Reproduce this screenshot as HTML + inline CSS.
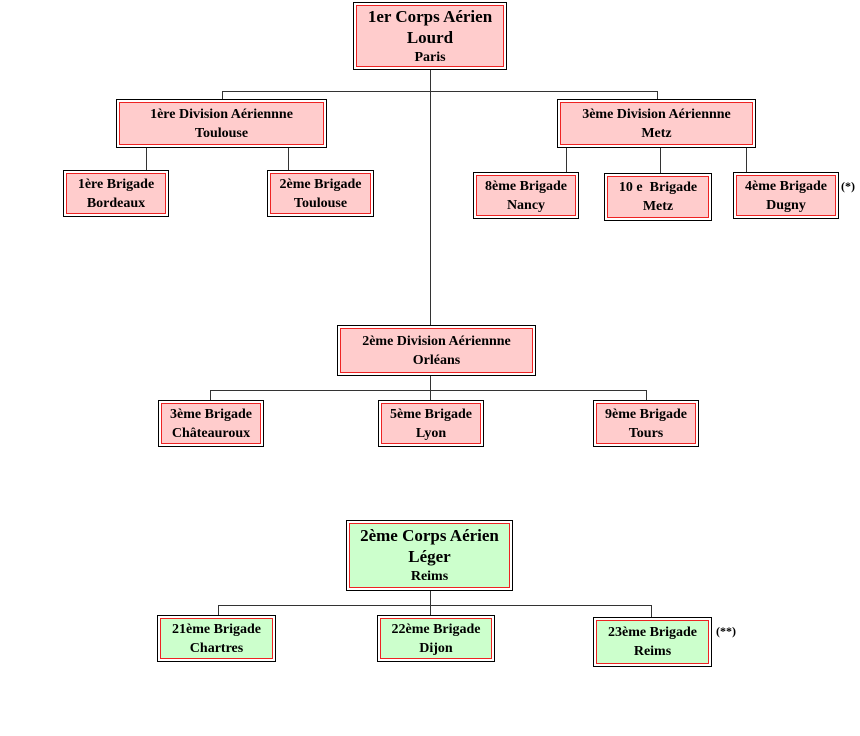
<!DOCTYPE html>
<html><head><meta charset="utf-8"><style>
body{margin:0;width:860px;height:736px;background:#fff;position:relative;overflow:hidden;font-family:"Liberation Serif",serif;font-weight:bold;}
.b{position:absolute;box-sizing:border-box;border:1px solid #000;background:#fff;padding:2px;}
.b>div{box-sizing:border-box;width:100%;height:100%;border:1px solid #e22;background:#ffcccc;display:flex;flex-direction:column;justify-content:center;align-items:center;text-align:center;font-size:14px;line-height:19px;color:#000;}
.g>div{background:#ccffcc;}
.l{position:absolute;background:#333;}
.n{position:absolute;font-size:12px;}
</style></head><body>
<!-- lines -->
<div class="l" style="left:430px;top:69px;width:1px;height:256px"></div>
<div class="l" style="left:222px;top:91px;width:436px;height:1px"></div>
<div class="l" style="left:222px;top:91px;width:1px;height:8px"></div>
<div class="l" style="left:657px;top:91px;width:1px;height:8px"></div>
<div class="l" style="left:146px;top:147px;width:1px;height:23px"></div>
<div class="l" style="left:288px;top:147px;width:1px;height:23px"></div>
<div class="l" style="left:566px;top:147px;width:1px;height:25px"></div>
<div class="l" style="left:660px;top:147px;width:1px;height:26px"></div>
<div class="l" style="left:746px;top:147px;width:1px;height:25px"></div>
<div class="l" style="left:210px;top:390px;width:437px;height:1px"></div>
<div class="l" style="left:430px;top:375px;width:1px;height:25px"></div>
<div class="l" style="left:210px;top:390px;width:1px;height:10px"></div>
<div class="l" style="left:646px;top:390px;width:1px;height:10px"></div>
<div class="l" style="left:430px;top:590px;width:1px;height:25px"></div>
<div class="l" style="left:218px;top:605px;width:434px;height:1px"></div>
<div class="l" style="left:218px;top:605px;width:1px;height:10px"></div>
<div class="l" style="left:651px;top:605px;width:1px;height:12px"></div>
<!-- boxes -->
<div class="b" style="left:353px;top:2px;width:154px;height:68px"><div><span style="font-size:17px;line-height:21px">1er Corps Aérien</span><span style="font-size:17px;line-height:21px">Lourd</span><span>Paris</span></div></div>
<div class="b" style="left:116px;top:99px;width:211px;height:49px"><div>1ère Division Aériennne<br>Toulouse</div></div>
<div class="b" style="left:557px;top:99px;width:199px;height:49px"><div>3ème Division Aériennne<br>Metz</div></div>
<div class="b" style="left:63px;top:170px;width:106px;height:47px"><div>1ère Brigade<br>Bordeaux</div></div>
<div class="b" style="left:267px;top:170px;width:107px;height:47px"><div>2ème Brigade<br>Toulouse</div></div>
<div class="b" style="left:473px;top:172px;width:106px;height:47px"><div>8ème Brigade<br>Nancy</div></div>
<div class="b" style="left:604px;top:173px;width:108px;height:48px"><div>10 e&nbsp; Brigade<br>Metz</div></div>
<div class="b" style="left:733px;top:172px;width:106px;height:47px"><div>4ème Brigade<br>Dugny</div></div>
<div class="n" style="left:841px;top:179px">(*)</div>
<div class="b" style="left:337px;top:325px;width:199px;height:51px"><div>2ème Division Aériennne<br>Orléans</div></div>
<div class="b" style="left:158px;top:400px;width:106px;height:47px"><div>3ème Brigade<br>Châteauroux</div></div>
<div class="b" style="left:378px;top:400px;width:106px;height:47px"><div>5ème Brigade<br>Lyon</div></div>
<div class="b" style="left:593px;top:400px;width:106px;height:47px"><div>9ème Brigade<br>Tours</div></div>
<div class="b g" style="left:346px;top:520px;width:167px;height:71px"><div><span style="font-size:17px;line-height:21px">2ème Corps Aérien</span><span style="font-size:17px;line-height:21px">Léger</span><span>Reims</span></div></div>
<div class="b g" style="left:157px;top:615px;width:119px;height:47px"><div>21ème Brigade<br>Chartres</div></div>
<div class="b g" style="left:377px;top:615px;width:118px;height:47px"><div>22ème Brigade<br>Dijon</div></div>
<div class="b g" style="left:593px;top:617px;width:119px;height:50px"><div>23ème Brigade<br>Reims</div></div>
<div class="n" style="left:716px;top:624px">(**)</div>
</body></html>
